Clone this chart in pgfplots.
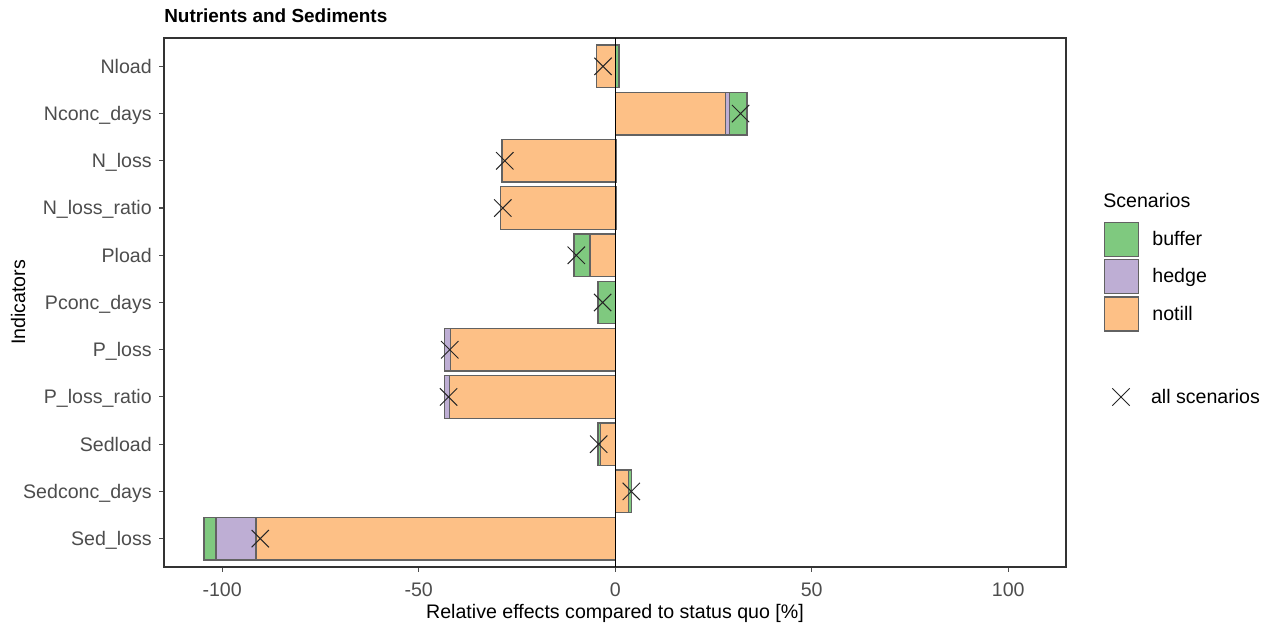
\documentclass[border=0pt]{standalone}
\usepackage{fontspec}
\setmainfont{Liberation Sans}
\usepackage{pgfplots}
\pgfplotsset{compat=1.18}
\usepackage{pgfplotstable}
\definecolor{cbuf}{HTML}{7FC97F}
\definecolor{ched}{HTML}{BEAED4}
\definecolor{cnt}{HTML}{FDC086}
\definecolor{edge}{HTML}{626262}
\definecolor{g30}{HTML}{4D4D4D}
\definecolor{g20}{HTML}{333333}
\newcommand\fs{\fontsize{14.7}{17.6}\selectfont}

% y: 11 = Nload (top) ... 1 = Sed_loss (bottom)
% nt = notill; hed = notill+hedge; buf = notill+hedge+buffer (same sign) or buffer alone (opposite sign)
\pgfplotstableread{
y nt hed buf all
11 -4.8 -4.8 1.0 -3.1
10 28.1 29.1 33.5 31.9
9 -28.8 -28.8 0.4 -28.1
8 -29.2 -29.2 0.4 -28.6
7 -6.4 -6.4 -10.5 -9.9
6 0 0 -4.4 -3.2
5 -41.9 -43.5 -43.5 -42.1
4 -42.2 -43.5 -43.5 -42.4
3 -3.7 -3.7 -4.4 -4.2
2 3.4 3.4 4.2 4.1
1 -91.4 -101.6 -104.6 -90.3
}\datatab

\pgfplotsset{
  common/.style={
    scale only axis, width=676.5pt, height=396.75pt,
    at={(123pt,42.75pt)}, anchor=south west,
    xmin=-114.8, xmax=114.7, ymin=0.4, ymax=11.6,
  },
  bars/.style={
    xbar, bar width=0.9, bar shift=0pt, draw=edge, line width=1.05pt,
    legend image code/.code={\draw[##1] (0pt,-12.75pt) rectangle (25.5pt,12.75pt);},
  },
  xleg/.style={
    legend image code/.code={\path[draw=none, fill=none] (0pt,-12.75pt) rectangle (25.5pt,12.75pt); \draw[##1] plot coordinates {(12.75pt,0pt)};},
  },
}

\begin{document}
\begin{tikzpicture}
\useasboundingbox (0,0) rectangle (947.25pt,468pt);
\begin{axis}[common, name=main,
  axis line style={g20, line width=0.8pt},
  tick pos=left, tick align=outside, major tick length=3.4pt,
  tick style={g30, line width=0.8pt},
  xtick={-100,-50,0,50,100},
  xticklabels={-100,-50,0,50,100},
  ytick={1,...,11},
  yticklabels={Sed\_loss,Sedconc\_days,Sedload,P\_loss\_ratio,P\_loss,Pconc\_days,Pload,N\_loss\_ratio,N\_loss,Nconc\_days,Nload},
  tick label style={font=\fs, text=g30},
  yticklabel style={anchor=base east, inner sep=0pt, xshift=-5.6pt, yshift=-5.2pt},
  xticklabel style={anchor=base, inner sep=0pt, yshift=-18.4pt},
  xlabel={Relative effects compared to status quo [\%]},
  ylabel={Indicators},
  xlabel style={font=\fs, at={(axis description cs:0.5,0)}, anchor=base, yshift=-38.8pt, inner sep=0pt},
  ylabel style={font=\fs, at={(axis description cs:0,0.5)}, anchor=center, yshift=109.5pt, inner sep=0pt},
  title={\bfseries Nutrients and Sediments},
  title style={font=\fontsize{14.2}{17}\selectfont, at={(axis description cs:0,1)}, anchor=base west, yshift=5.5pt, inner sep=0pt},
  legend style={at={(axis description cs:1,1)}, anchor=north west, xshift=28.3pt, yshift=-137.5pt,
    draw=none, fill=none, inner sep=0pt, row sep=1.5pt, column sep=9.75pt, font=\fs,
    nodes={inner sep=0pt}},
  legend cell align=left,
]
\addplot[bars, fill=cbuf] table[x=buf, y=y] {\datatab};
\addlegendentry{buffer}
\addplot[bars, fill=ched] table[x=hed, y=y] {\datatab};
\addlegendentry{hedge}
\addplot[bars, fill=cnt] table[x=nt, y=y] {\datatab};
\addlegendentry{notill}
\addplot[black, line width=0.8pt, forget plot] coordinates {(0,0.4) (0,11.6)};
\end{axis}
\node[font=\fs, anchor=base west, inner sep=0pt] at ([xshift=27.75pt, yshift=-127.5pt]main.north east) {Scenarios};
\begin{axis}[common, hide axis,
  legend style={at={(axis description cs:1,1)}, anchor=north west, xshift=28.3pt, yshift=-256.3pt,
    draw=none, fill=none, inner sep=0pt, column sep=9.75pt, font=\fs, nodes={inner sep=0pt}},
  legend cell align=left,
]
\addplot[only marks, mark=x, mark size=9.2pt, mark options={line width=0.75pt}, color=black!85, xleg]
  table[x=all, y=y] {\datatab};
\addlegendentry{all scenarios}
\end{axis}
\end{tikzpicture}
\end{document}
